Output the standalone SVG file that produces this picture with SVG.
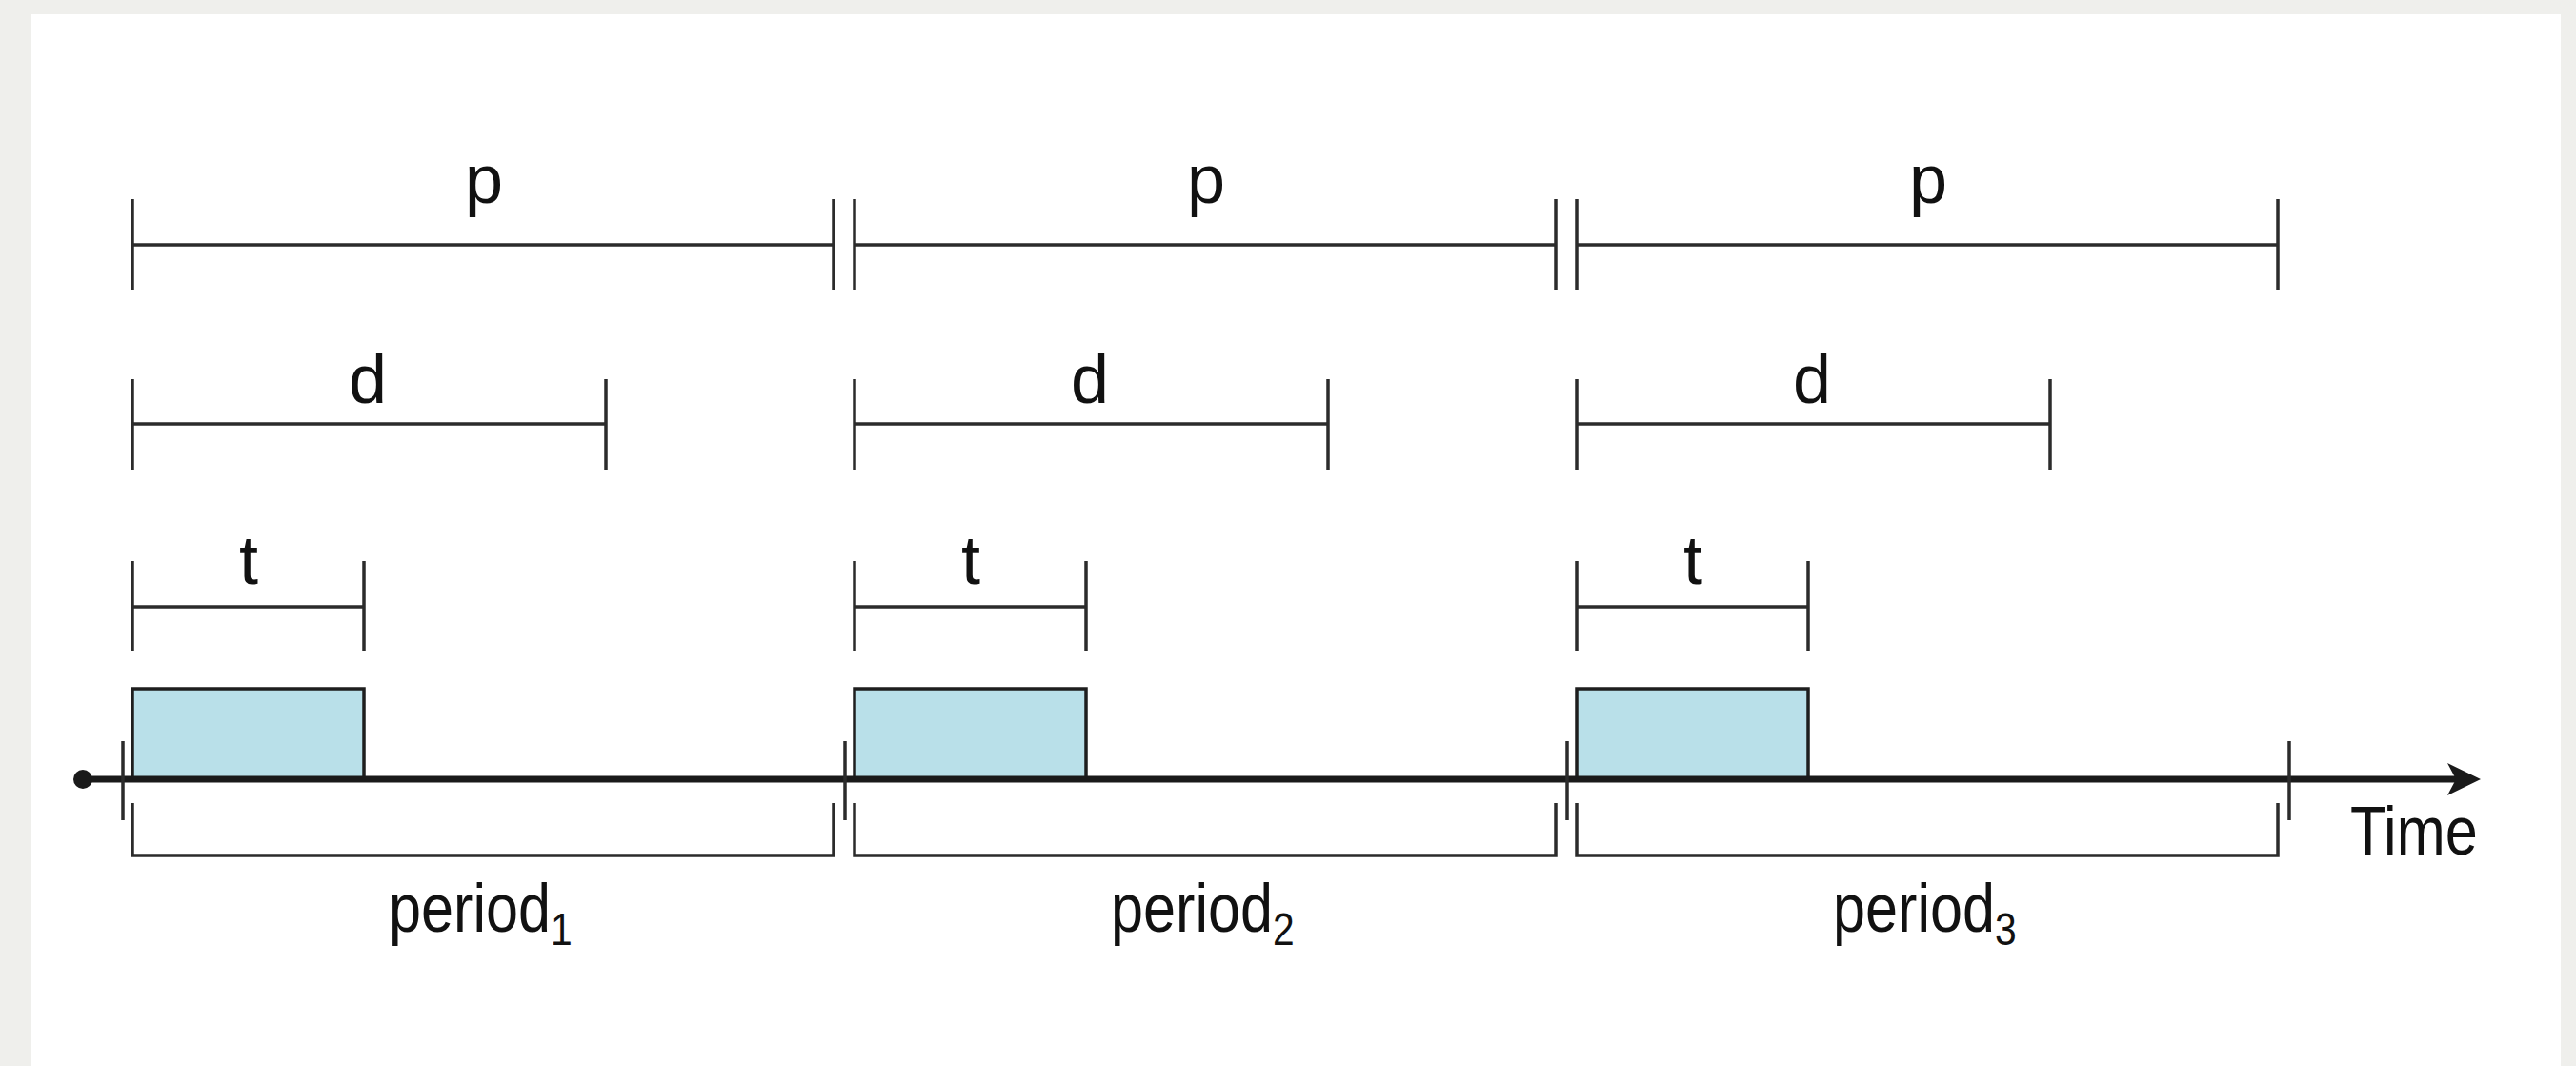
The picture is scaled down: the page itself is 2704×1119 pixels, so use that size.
<svg xmlns="http://www.w3.org/2000/svg" width="2704" height="1119" viewBox="0 0 2704 1119">
<style>
.dim{stroke:#2b2b2b;stroke-width:3.5;fill:none;stroke-linecap:butt}
.ax{stroke:#1a1a1a;stroke-width:7;fill:none}
.tk{stroke:#2b2b2b;stroke-width:3.5;fill:none}
.job{fill:#b9e0e9;stroke:#1e1e1e;stroke-width:3.5}
.lbl{font-family:"Liberation Sans",Arial,Helvetica,sans-serif;font-size:72px;fill:#111;text-anchor:middle}
.lbs{font-family:"Liberation Sans",Arial,Helvetica,sans-serif;font-size:72px;fill:#111}
.sub{font-size:48px}
</style>
<defs>
<g id="period">
<path class="dim" d="M0,209V304M0,257H736M736,209V304"/>
<path class="dim" d="M0,398V493M0,445H497M497,398V493"/>
<path class="dim" d="M0,589V683M0,637H243M243,589V683"/>
<rect class="job" x="0" y="723" width="243" height="95"/>
<path class="dim" d="M0,843V898H736V843"/>
<text class="lbl" x="369" y="213">p</text>
<text class="lbl" x="247" y="423">d</text>
<text class="lbl" x="122" y="613">t</text>
</g>
</defs>
<rect x="0" y="0" width="2704" height="1119" fill="#efefec"/>
<rect x="33" y="15" width="2655" height="1110" fill="#ffffff"/>
<g id="period1">
<use href="#period" x="139" y="0"/>
<text class="lbs" transform="translate(408,978) scale(0.85,1)" x="0" y="0">period<tspan class="sub" dy="14">1</tspan></text>
</g>
<g id="period2">
<use href="#period" x="897" y="0"/>
<text class="lbs" transform="translate(1166,978) scale(0.85,1)" x="0" y="0">period<tspan class="sub" dy="14">2</tspan></text>
</g>
<g id="period3">
<use href="#period" x="1655" y="0"/>
<text class="lbs" transform="translate(1924,978) scale(0.85,1)" x="0" y="0">period<tspan class="sub" dy="14">3</tspan></text>
</g>
<g id="connectors">
<line class="ax" x1="87" y1="818" x2="2580" y2="818"/>
<circle cx="87" cy="818" r="10" fill="#1a1a1a"/>
<polygon points="2604,818 2569,801 2578,818 2569,835" fill="#1a1a1a"/>
<path class="tk" d="M129,778V861M887,778V861M1645,778V861M2403,778V861"/>
</g>
<g id="time-label">
<text class="lbs" transform="translate(2467,897) scale(0.85,1)" x="0" y="0">Time</text>
</g>
</svg>
